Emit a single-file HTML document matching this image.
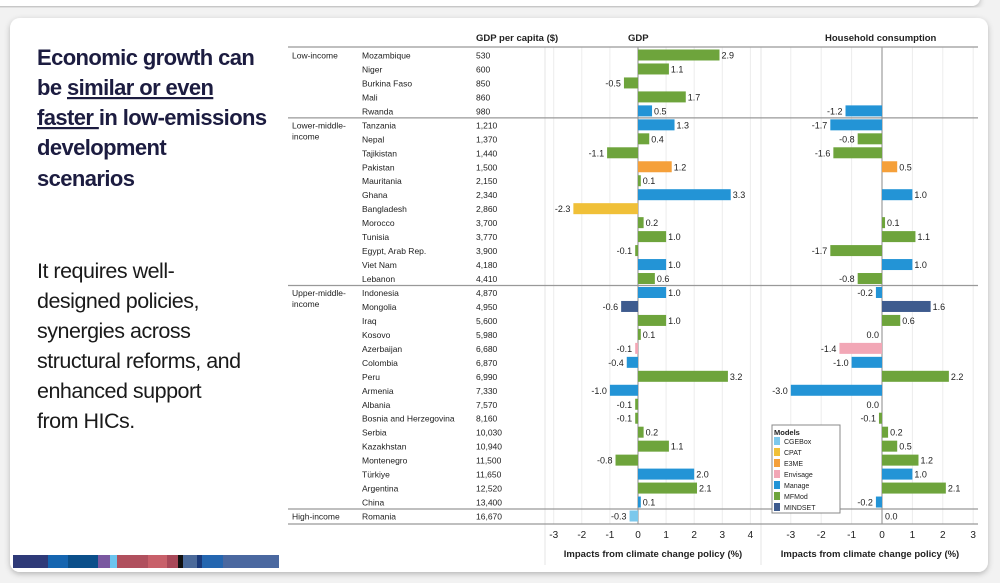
<!DOCTYPE html>
<html><head><meta charset="utf-8">
<style>
html,body{margin:0;padding:0;background:#fff;width:1000px;height:583px;overflow:hidden}
svg{display:block}
text{font-family:"Liberation Sans",sans-serif}
</style></head>
<body>
<svg id="s" width="1000" height="583" viewBox="0 0 1000 583">
  <defs>
    <filter id="sh" x="-5%" y="-5%" width="110%" height="110%"><feDropShadow dx="0" dy="2" stdDeviation="3" flood-color="#000" flood-opacity="0.25"/></filter>
  </defs>
  <rect x="0" y="0" width="1000" height="583" fill="#f2f2f2"/>
  <rect x="-20" y="-20" width="1000" height="26" rx="8" fill="#fff" filter="url(#sh)"/>
  <rect x="10" y="18" width="978" height="554" rx="10" fill="#fff" filter="url(#sh)"/>
  <g font-weight="bold" font-size="22" fill="#1c1c40" letter-spacing="-0.6">
    <text x="37" y="65">Economic growth can</text>
    <text x="37" y="95">be <tspan text-decoration="underline">similar or even</tspan></text>
    <text x="37" y="125"><tspan text-decoration="underline">faster </tspan>in low-emissions</text>
    <text x="37" y="155">development</text>
    <text x="37" y="186">scenarios</text>
  </g>
  <g font-size="21.5" fill="#1a1a1a" letter-spacing="-0.5">
    <text x="37" y="278">It requires well-</text>
    <text x="37" y="308">designed policies,</text>
    <text x="37" y="338">synergies across</text>
    <text x="37" y="368">structural reforms, and</text>
    <text x="37" y="398">enhanced support</text>
    <text x="37" y="428">from HICs.</text>
  </g>
  <g id="stripe"></g>
  <g id="chart"></g>
</svg>
<script>
const countries=["Mozambique","Niger","Burkina Faso","Mali","Rwanda","Tanzania","Nepal","Tajikistan","Pakistan","Mauritania","Ghana","Bangladesh","Morocco","Tunisia","Egypt, Arab Rep.","Viet Nam","Lebanon","Indonesia","Mongolia","Iraq","Kosovo","Azerbaijan","Colombia","Peru","Armenia","Albania","Bosnia and Herzegovina","Serbia","Kazakhstan","Montenegro","Türkiye","Argentina","China","Romania"];
const gdpPerCapita=["530","600","850","860","980","1,210","1,370","1,440","1,500","2,150","2,340","2,860","3,700","3,770","3,900","4,180","4,410","4,870","4,950","5,600","5,980","6,680","6,870","6,990","7,330","7,570","8,160","10,030","10,940","11,500","11,650","12,520","13,400","16,670"];
const gdpImpact=[2.9,1.1,-0.5,1.7,0.5,1.3,0.4,-1.1,1.2,0.1,3.3,-2.3,0.2,1.0,-0.1,1.0,0.6,1.0,-0.6,1.0,0.1,-0.1,-0.4,3.2,-1.0,-0.1,-0.1,0.2,1.1,-0.8,2.0,2.1,0.1,-0.3];
const hhImpact=[null,null,null,null,-1.2,-1.7,-0.8,-1.6,0.5,null,1.0,null,0.1,1.1,-1.7,1.0,-0.8,-0.2,1.6,0.6,0.0,-1.4,-1.0,2.2,-3.0,0.0,-0.1,0.2,0.5,1.2,1.0,2.1,-0.2,0.0];
const models=["M","M","M","M","G","G","M","M","E","M","G","C","M","M","M","G","M","G","D","M","M","V","G","M","G","M","M","M","M","M","G","M","G","B"];
const groups=[{name:["Low-income"],start:0,end:4},{name:["Lower-middle-","income"],start:5,end:16},{name:["Upper-middle-","income"],start:17,end:32},{name:["High-income"],start:33,end:33}];
const legendNames=["CGEBox","CPAT","E3ME","Envisage","Manage","MFMod","MINDSET"];
const legendKeys=["B","C","E","V","G","M","D"];
const gdpTicks=[-3,-2,-1,0,1,2,3,4];
const hhTicks=[-3,-2,-1,0,1,2,3];

const colors={B:"#7cc8ec",C:"#f0c038",E:"#f5a03a",V:"#f2a7b6",G:"#2394d6",M:"#6ea43c",D:"#3e5b8e"};
const NS="http://www.w3.org/2000/svg";
const chart=document.getElementById('chart');
function mk(tag,attrs,parent,txt){const e=document.createElementNS(NS,tag);for(const k in attrs)e.setAttribute(k,attrs[k]);if(txt!==undefined)e.textContent=txt;(parent||chart).appendChild(e);return e;}
const row0=55,pitch=13.97,barH=11;
const yRow=i=>row0+i*pitch;
const xGdp=v=>638+v*28.1;
const xHh=v=>882+v*30.4;
const topY=47,botY=524;

// stripe
const stripeSegs=[[13,48,"#2e3a78"],[48,68,"#1565b0"],[68,98,"#0b4f8a"],[98,110,"#7a58a0"],[110,117,"#6cc4ee"],[117,148,"#b0505e"],[148,167,"#c8606a"],[167,178,"#a84858"],[178,183,"#111"],[183,197,"#4b6a9a"],[197,202,"#1a3a7a"],[202,223,"#2466b0"],[223,279,"#4a68a0"]];
const st=document.getElementById('stripe');
stripeSegs.forEach(s=>{const r=mk('rect',{x:s[0],y:555,width:s[1]-s[0],height:13,fill:s[2]},st);

});

// gridlines
gdpTicks.forEach(t=>{const l=mk('line',{x1:xGdp(t),x2:xGdp(t),y1:topY,y2:botY,stroke:t===0?"#888":"#ececec","stroke-width":1});


const tx=mk('text',{x:xGdp(t),y:538,"text-anchor":"middle","font-size":10,fill:"#222"},chart,String(t).replace('-','-'));

});
hhTicks.forEach(t=>{const l=mk('line',{x1:xHh(t),x2:xHh(t),y1:topY,y2:botY,stroke:t===0?"#888":"#ececec","stroke-width":1});


const tx=mk('text',{x:xHh(t),y:538,"text-anchor":"middle","font-size":10,fill:"#222"},chart,String(t));

});
[545,761].forEach(x=>{const l=mk('line',{x1:x,x2:x,y1:topY,y2:565,stroke:"#e4e4e4"});

});

// headers
[["GDP per capita ($)",476,"start","gdp-per-capita-header"],["GDP",628,"start","gdp-header"],["Household consumption",825,"start","household-header"]].forEach(h=>{
const t=mk('text',{x:h[1],y:41,"font-size":9.5,"font-weight":"bold",fill:"#222","text-anchor":h[2]},chart,h[0]);

});
[["Impacts from climate change policy (%)",653,"gdp-axis-title"],["Impacts from climate change policy (%)",870,"hh-axis-title"]].forEach(h=>{
const t=mk('text',{x:h[1],y:557,"font-size":9.5,"font-weight":"bold",fill:"#222","text-anchor":"middle"},chart,h[0]);

});

// horizontal lines
const hl=[topY,botY];
groups.forEach((g,i)=>{if(i>0)hl.push((yRow(g.start-1)+yRow(g.start))/2);});
hl.forEach(y=>{const l=mk('line',{x1:288,x2:978,y1:y,y2:y,stroke:"#999","stroke-width":1.3});

});

groups.forEach(g=>{g.name.forEach((n,k)=>{const t=mk('text',{x:292,y:yRow(g.start)+3.5+k*11,"font-size":8.5,fill:"#222"},chart,n);

});});

function label(x,y,v,anchor,name){const t=mk('text',{x:x,y:y+3.5,"font-size":9,fill:"#222","text-anchor":anchor},chart,v.toFixed(1));

}

countries.forEach((c,i)=>{
  const y=yRow(i);
  const t1=mk('text',{x:362,y:y+3.5,"font-size":8.5,fill:"#222"},chart,c);
  
  
  const t2=mk('text',{x:476,y:y+3.5,"font-size":8.5,fill:"#222"},chart,gdpPerCapita[i]);
  
  
  const col=colors[models[i]];
  const g=gdpImpact[i];
  const x0=xGdp(0),x1=xGdp(g);
  const b=mk('rect',{x:Math.min(x0,x1),y:y-barH/2,width:Math.max(Math.abs(x1-x0),1.5),height:barH,fill:col});
  
  
  if(g>=0)label(Math.max(x0,x1)+2,y,g,'start','gdp-value-label');else label(x1-3,y,g,'end','gdp-value-label');
  const h=hhImpact[i];
  if(h!==null){
    const h0=xHh(0),h1=xHh(h);
    if(h!==0){const hb=mk('rect',{x:Math.min(h0,h1),y:y-barH/2,width:Math.max(Math.abs(h1-h0),1.5),height:barH,fill:col});
    
    }
    if(h>0)label(h1+2,y,h,'start','hh-value-label');
    else if(h===0&&i===countries.length-1)label(h0+3,y,h,'start','hh-value-label');
    else label(h1-3,y,h,'end','hh-value-label');
  }
});

// legend
const lg=mk('g',{});


mk('rect',{x:772,y:425,width:68,height:88,fill:"#fff",stroke:"#888"},lg);
const lt=mk('text',{x:774,y:435,"font-size":7.5,"font-weight":"bold",fill:"#222"},lg,"Models");


legendNames.forEach((n,k)=>{const y=441+k*11;
const sw=mk('rect',{x:774,y:y-4,width:6,height:8,fill:colors[legendKeys[k]]},lg);


const t=mk('text',{x:784,y:y+3,"font-size":7,fill:"#222"},lg,n);

});
</script>
</body></html>
